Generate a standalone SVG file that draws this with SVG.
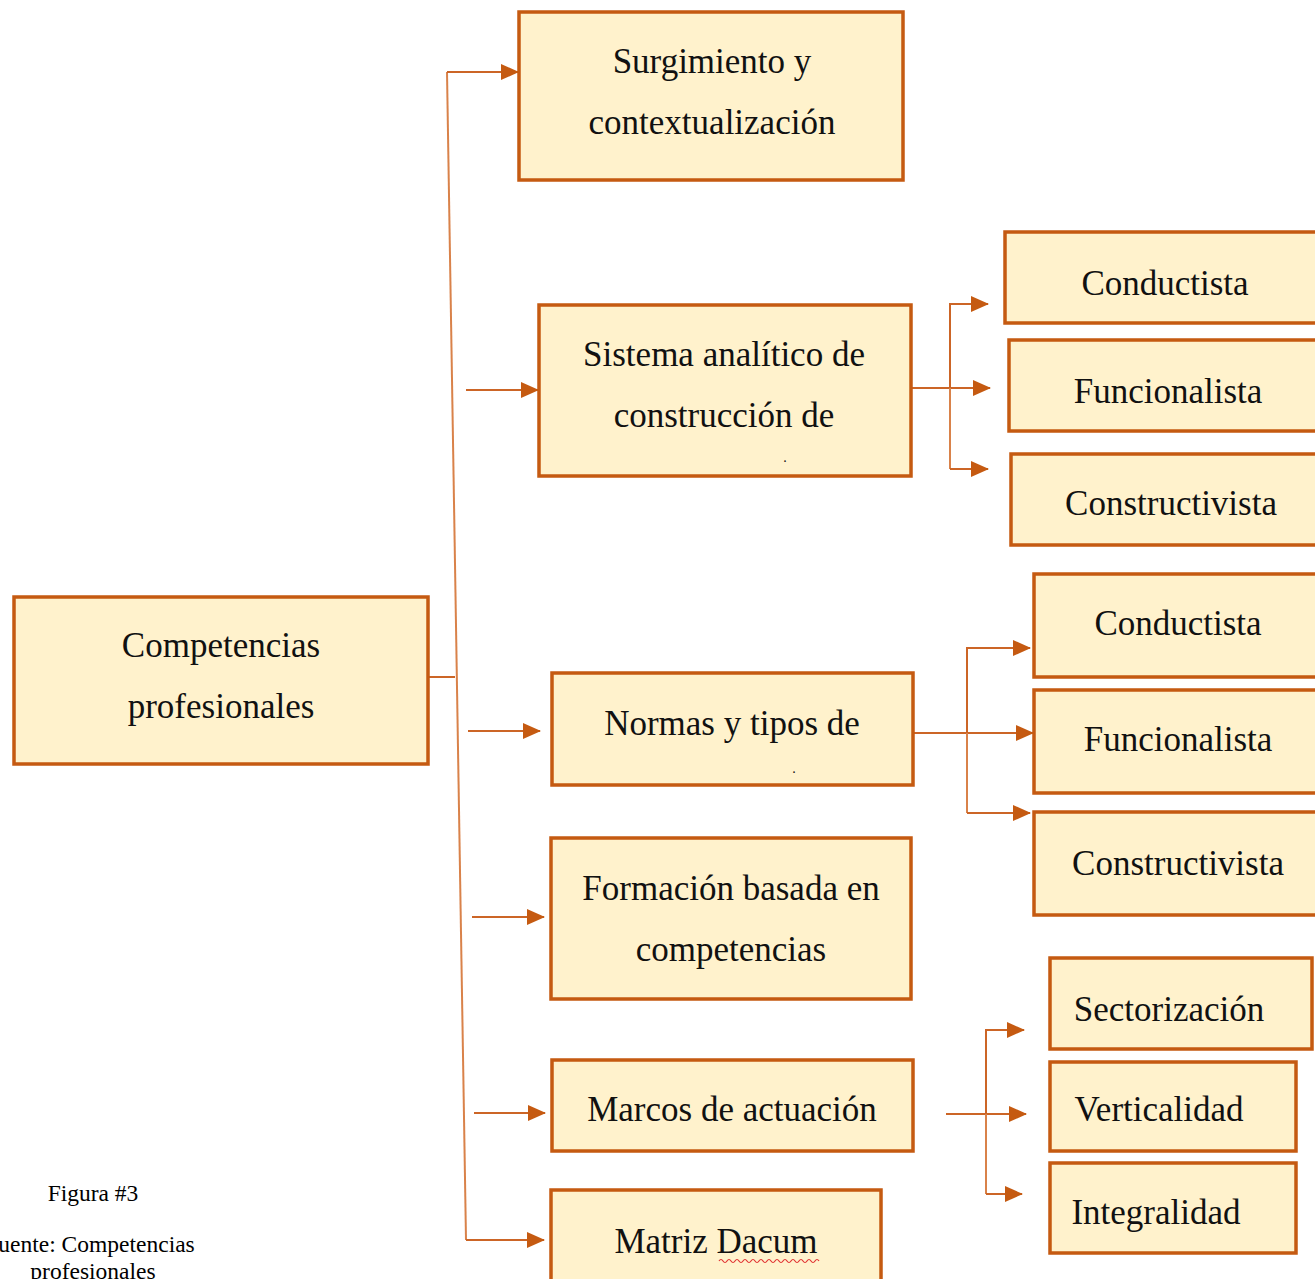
<svg xmlns="http://www.w3.org/2000/svg" width="1315" height="1279" viewBox="0 0 1315 1279">
<defs>
<style>
.box{fill:#FFF2CC;stroke:#C55A11;stroke-width:3.5}
.t{font-family:"Liberation Serif","Times New Roman",serif;font-size:35px;fill:#111;text-anchor:middle}
.cap{font-family:"Liberation Serif","Times New Roman",serif;font-size:23.5px;fill:#000;text-anchor:middle}
.c{fill:none;stroke:#CC6526;stroke-width:2}
.cl{fill:none;stroke:#D9824A;stroke-width:2}
</style>
<marker id="ah" markerUnits="userSpaceOnUse" markerWidth="18" markerHeight="16" viewBox="0 0 18 16" refX="17" refY="8" orient="auto">
<path d="M0,0 L18,8 L0,16 Z" fill="#C55A11"/>
</marker>
</defs>
<rect width="1315" height="1279" fill="#fff"/>
<g id="connectors">
<path class="c" d="M428,677 H455"/>
<path class="cl" d="M447,72 L466,1240"/>
<path class="c" d="M447,72 H518" marker-end="url(#ah)"/>
<path class="c" d="M466,390 H538" marker-end="url(#ah)"/>
<path class="c" d="M468,731 H540" marker-end="url(#ah)"/>
<path class="c" d="M472,917 H544" marker-end="url(#ah)"/>
<path class="c" d="M474,1113 H545" marker-end="url(#ah)"/>
<path class="c" d="M466,1240 H544" marker-end="url(#ah)"/>
<path class="c" d="M911,388 H990" marker-end="url(#ah)"/>
<path class="cl" d="M950,388 V469"/>
<path class="c" d="M950,388 V304 H988" marker-end="url(#ah)"/>
<path class="c" d="M950,469 H988" marker-end="url(#ah)"/>
<path class="c" d="M905,733 H1033" marker-end="url(#ah)"/>
<path class="c" d="M967,733 V648 H1030" marker-end="url(#ah)"/>
<path class="cl" d="M967,733 V813"/>
<path class="c" d="M967,813 H1030" marker-end="url(#ah)"/>
<path class="c" d="M946,1114 H1026" marker-end="url(#ah)"/>
<path class="c" d="M986,1114 V1030 H1024" marker-end="url(#ah)"/>
<path class="cl" d="M986,1114 V1194"/>
<path class="c" d="M986,1194 H1022" marker-end="url(#ah)"/>
</g>
<g id="n-competencias"><rect class="box" x="14" y="597" width="414" height="167"/><text class="t" x="221" y="657">Competencias</text><text class="t" x="221" y="718">profesionales</text></g>
<g id="n-surgimiento"><rect class="box" x="519" y="12" width="384" height="168"/><text class="t" x="712" y="73">Surgimiento y</text><text class="t" x="712" y="134">contextualización</text></g>
<g id="n-sistema"><rect class="box" x="539" y="305" width="372" height="171"/><text class="t" x="724" y="366">Sistema analítico de</text><text class="t" x="724" y="427">construcción de</text><text class="t" x="785" y="462" style="font-size:14px">.</text></g>
<g id="n-normas"><rect class="box" x="552" y="673" width="361" height="112"/><text class="t" x="732" y="735">Normas y tipos de</text><text class="t" x="794" y="773" style="font-size:14px">.</text></g>
<g id="n-formacion"><rect class="box" x="551" y="838" width="360" height="161"/><text class="t" x="731" y="900">Formación basada en</text><text class="t" x="731" y="961">competencias</text></g>
<g id="n-marcos"><rect class="box" x="552" y="1060" width="361" height="91"/><text class="t" x="732" y="1121">Marcos de actuación</text></g>
<g id="n-matriz"><rect class="box" x="551" y="1190" width="330" height="100"/><text class="t" x="716" y="1253">Matriz Dacum</text><path d="M719,1261 q2,-3 4,0 t4,0 t4,0 t4,0 t4,0 t4,0 t4,0 t4,0 t4,0 t4,0 t4,0 t4,0 t4,0 t4,0 t4,0 t4,0 t4,0 t4,0 t4,0 t4,0 t4,0 t4,0 t4,0 t4,0 t4,0" fill="none" stroke="#E03030" stroke-width="1.2"/></g>
<g id="n-conductista1"><rect class="box" x="1005" y="232" width="320" height="91"/><text class="t" x="1165" y="295">Conductista</text></g>
<g id="n-funcionalista1"><rect class="box" x="1009" y="340" width="316" height="91"/><text class="t" x="1168" y="403">Funcionalista</text></g>
<g id="n-constructivista1"><rect class="box" x="1011" y="454" width="314" height="91"/><text class="t" x="1171" y="515">Constructivista</text></g>
<g id="n-conductista2"><rect class="box" x="1034" y="574" width="291" height="103"/><text class="t" x="1178" y="635">Conductista</text></g>
<g id="n-funcionalista2"><rect class="box" x="1034" y="690" width="291" height="103"/><text class="t" x="1178" y="751">Funcionalista</text></g>
<g id="n-constructivista2"><rect class="box" x="1034" y="812" width="291" height="103"/><text class="t" x="1178" y="875">Constructivista</text></g>
<g id="n-sectorizacion"><rect class="box" x="1050" y="958" width="262" height="91"/><text class="t" x="1169" y="1021">Sectorización</text></g>
<g id="n-verticalidad"><rect class="box" x="1050" y="1062" width="246" height="89"/><text class="t" x="1159" y="1121">Verticalidad</text></g>
<g id="n-integralidad"><rect class="box" x="1050" y="1163" width="246" height="90"/><text class="t" x="1156" y="1224">Integralidad</text></g>
<g id="caption"><text class="cap" x="93" y="1201">Figura #3</text><text class="cap" x="90" y="1252">Fuente: Competencias</text><text class="cap" x="93" y="1279">profesionales</text></g>
</svg>
